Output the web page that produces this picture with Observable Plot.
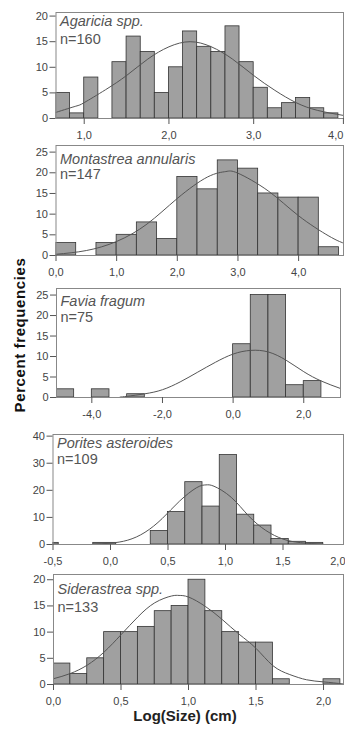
<!DOCTYPE html>
<html><head><meta charset="utf-8">
<script src="https://cdn.jsdelivr.net/npm/d3@7"></script>
<script src="https://cdn.jsdelivr.net/npm/@observablehq/plot@0.6"></script>
<style>
body{margin:0;background:#fff;font-family:"Liberation Sans",Arial,sans-serif;}
#wrap{position:relative;width:345px;height:730px;overflow:hidden;background:#fff;}
.panel{position:absolute;left:0;}
#ytitle{position:absolute;left:19px;top:335px;transform:translate(-50%,-50%) rotate(-90deg);font-weight:bold;font-size:15px;letter-spacing:0.6px;white-space:nowrap;color:#111;}
#xtitle{position:absolute;left:185px;top:707px;transform:translateX(-50%);font-size:15px;font-weight:bold;white-space:nowrap;color:#222;}
</style></head>
<body><div id="wrap"><div id="ytitle">Percent frequencies</div><div id="xtitle">Log(Size) (cm)</div></div>
<script>
// ---- Data ----
const species = ["Agaricia spp.", "Montastrea annularis", "Favia fragum", "Porites asteroides", "Siderastrea spp."];
const sampleSizes = [160, 147, 75, 109, 133];

const edges1 = [0.667,0.833,1.0,1.167,1.333,1.5,1.667,1.833,2.0,2.167,2.333,2.5,2.667,2.833,3.0,3.167,3.333,3.5,3.667,3.833,4.0];
const counts1 = [5,1,8,0,11,16,13,5,10,17,14,13,18,11,6,2,3,4,2,1];
const curveX1 = [0.667,0.9,1.0,1.25,1.5,1.75,2.0,2.25,2.5,2.75,3.0,3.25,3.5,3.75,4.06];
const curveY1 = [1.2,2.4,3.1,5.6,8.4,11.6,14.0,15.0,14.0,11.6,8.4,5.5,3.1,1.6,0.6];

const edges2 = [0,0.333,0.667,1.0,1.333,1.667,2.0,2.333,2.667,3.0,3.333,3.667,4.0,4.333,4.667];
const counts2 = [3,0,3,5,8,4,19,16,23,21,15,14,14,2];
const curveX2 = [0,0.5,1.0,1.5,2.0,2.5,2.8,3.0,3.5,4.0,4.5,4.74];
const curveY2 = [0.3,1.2,3.4,7.6,13.8,19.0,20.3,19.9,15.6,9.6,4.7,3.0];

const edges3 = [-5,-4.5,-4,-3.5,-3,-2.5,-2,-1.5,-1,-0.5,0,0.5,1,1.5,2,2.5];
const counts3 = [2,0,2,0,0.8,0,0,0,0,0,13,25,25,3,4];
const curveX3 = [-3.2,-3,-2.5,-2,-1.5,-1,-0.5,0,0.5,1,1.5,2,2.5,3.04];
const curveY3 = [0.1,0.3,0.9,1.9,3.8,6.2,8.6,10.6,11.5,11.1,9.1,6.3,4.0,2.2];

const edges4 = [-0.5,-0.45,-0.15,0.05,0.35,0.5,0.65,0.8,0.95,1.1,1.25,1.4,1.55,1.7,1.85];
const counts4 = [0.6,0,0.6,0,5,12,23,14,33,11,7,2,1,0.6];
const curveX4 = [-0.15,0,0.15,0.3,0.45,0.6,0.75,0.83,0.9,1.05,1.2,1.35,1.5,1.65,1.85];
const curveY4 = [0.1,0.5,1.6,4.5,9.6,16.0,21.0,22.0,21.5,17.4,10.6,5.2,2.0,0.7,0.1];

const edges5 = [0,0.125,0.25,0.375,0.5,0.625,0.75,0.875,1.0,1.125,1.25,1.375,1.5,1.625,1.75,1.875,2.0,2.125];
const counts5 = [4,2,5,10,10,11,14,15,20,14,10,8,8,1,0,0,1];
const curveX5 = [0,0.125,0.25,0.375,0.5,0.625,0.75,0.875,0.93,1.0,1.125,1.25,1.375,1.5,1.625,1.75,1.875,2.0,2.148];
const curveY5 = [1.1,2.1,3.7,6.2,9.5,12.9,15.6,16.9,17.0,16.7,14.9,12.4,9.6,6.9,3.6,1.9,0.9,0.5,0.1];

const xTicks = [[1,2,3,4],[0,1,2,3,4],[-4,-2,0,2],[-0.5,0,0.5,1,1.5,2],[0,0.5,1,1.5,2]];
const yTicks = [[0,5,10,15,20],[0,5,10,15,20,25],[0,5,10,15,20,25],[0,10,20,30,40],[0,5,10,15,20]];
const xDomains = [[0.667,4.06],[0,4.74],[-5,3.04],[-0.5,2.026],[0,2.148]];
const yDomains = [[0,20.7],[0,26.6],[0,26.6],[0,40.6],[0,21]];

const allEdges = [edges1,edges2,edges3,edges4,edges5];
const allCounts = [counts1,counts2,counts3,counts4,counts5];
const allCX = [curveX1,curveX2,curveX3,curveX4,curveX5];
const allCY = [curveY1,curveY2,curveY3,curveY4,curveY5];

// ---- Layout ----
const layout = [
  {top:0,   mt:12, ph:106, ml:55.5, mr:2, nameDy:3, nDy:21},
  {top:140, mt:5,  ph:110, ml:55.5, mr:2, nameDy:8, nDy:23},
  {top:283, mt:5,  ph:109, ml:56,   mr:5, nameDy:7, nDy:23},
  {top:428, mt:6,  ph:110, ml:52.5, mr:2, nameDy:3, nDy:19},
  {top:569, mt:5,  ph:110, ml:53,   mr:2, nameDy:9, nDy:27}
];
const fmt = d => d.toFixed(1).replace(".", ",");
const wrap = document.getElementById("wrap");

species.forEach((name, i) => {
  const L = layout[i];
  const e = allEdges[i];
  const bars = allCounts[i].map((v, k) => ({lo: e[k], hi: e[k+1], v})).filter(d => d.v > 0);
  const curve = allCX[i].map((x, k) => ({x, y: allCY[i][k]}));
  const mb = 25;
  const dom = xDomains[i];
  // a tick label that would fall past the right edge is anchored at its end instead
  const edgeTicks = xTicks[i].filter(t => t >= dom[1] - 0.04 * (dom[1] - dom[0]));
  const midTicks = xTicks[i].filter(t => !edgeTicks.includes(t));
  const plot = Plot.plot({
    width: 345,
    height: L.mt + L.ph + mb,
    marginTop: L.mt, marginBottom: mb, marginLeft: L.ml, marginRight: L.mr,
    style: {fontFamily: "Liberation Sans, Arial, sans-serif", color: "#444", background: "transparent", overflow: "visible"},
    x: {domain: dom},
    y: {domain: yDomains[i]},
    marks: [
      Plot.rectY(bars, {x1: "lo", x2: "hi", y: "v", fill: "#a0a0a0", stroke: "#333", strokeWidth: 0.8, clip: true}),
      Plot.line(curve, {x: "x", y: "y", stroke: "#555", strokeWidth: 1, curve: "natural", clip: true}),
      Plot.frame({stroke: "#888"}),
      Plot.axisY({ticks: yTicks[i], tickSize: 6, tickPadding: 2, fontSize: 11, label: null, stroke: "#555", fill: "#444"}),
      Plot.axisX({ticks: midTicks, tickFormat: fmt, tickSize: 6, tickPadding: 7, fontSize: 11, label: null, stroke: "#555", fill: "#444"}),
      Plot.axisX({ticks: edgeTicks, tickFormat: fmt, tickSize: 6, tickPadding: 7, fontSize: 11, label: null, stroke: "#555", fill: "#444", textAnchor: "end", dx: 5}),
      Plot.text([name], {text: d => d, frameAnchor: "top-left", dx: 4, dy: L.nameDy, lineAnchor: "top", fontStyle: "italic", fontSize: 14.5, fill: "#555"}),
      Plot.text(["n=" + sampleSizes[i]], {text: d => d, frameAnchor: "top-left", dx: 4, dy: L.nDy, lineAnchor: "top", fontSize: 14.5, fill: "#555"})
    ]
  });
  plot.classList.add("panel");
  plot.style.top = L.top + "px";
  wrap.appendChild(plot);
});
</script></body></html>
